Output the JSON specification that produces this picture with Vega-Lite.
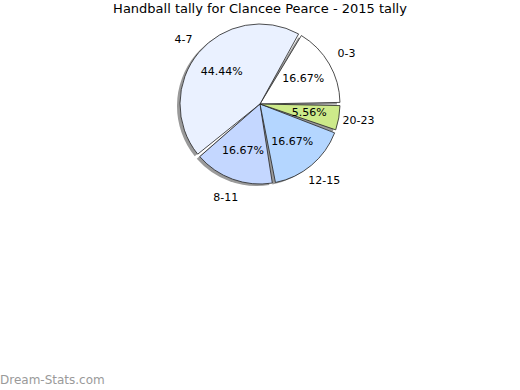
{
  "$schema": "https://vega.github.io/schema/vega-lite/v6.json",
  "padding": {"left": 0, "right": 0, "top": 3, "bottom": 2},
  "title": {"text": "Handball tally for Clancee Pearce - 2015 tally", "font": "DejaVu Sans", "fontSize": 13, "fontWeight": "normal", "color": "#000000", "anchor": "middle", "offset": 6},
  "config": {"view": {"stroke": null}, "font": "DejaVu Sans"},
  "spacing": 0,
  "vconcat": [
    {
      "width": 520,
      "height": 160,
      "data": {"values": [
        {"idx": 1, "range": "0-3", "count": 3, "pct": "16.67%"},
        {"idx": 2, "range": "4-7", "count": 8, "pct": "44.44%"},
        {"idx": 3, "range": "8-11", "count": 3, "pct": "16.67%"},
        {"idx": 4, "range": "12-15", "count": 3, "pct": "16.67%"},
        {"idx": 5, "range": "20-23", "count": 1, "pct": "5.56%"}
      ]},
      "encoding": {
        "theta": {"field": "count", "type": "quantitative", "stack": true, "scale": {"range": [1.5708, -4.7124]}},
        "order": {"field": "idx", "type": "quantitative"}
      },
      "layer": [
        {
          "mark": {"type": "arc", "outerRadius": 80, "padAngle": 0.04, "fill": "#9a9a9a", "xOffset": -3, "yOffset": 2}
        },
        {
          "mark": {"type": "arc", "outerRadius": 80, "padAngle": 0.04, "stroke": "#222222", "strokeWidth": 0.8},
          "encoding": {
            "color": {"field": "range", "type": "nominal", "legend": null,
              "scale": {"domain": ["0-3", "4-7", "8-11", "12-15", "20-23"], "range": ["#ffffff", "#eaf1ff", "#c4d7ff", "#b4d6ff", "#cdea8a"]}}
          }
        },
        {
          "mark": {"type": "text", "radius": 50, "fontSize": 11, "font": "DejaVu Sans", "color": "#000000"},
          "encoding": {"text": {"field": "pct", "type": "nominal"}}
        },
        {
          "mark": {"type": "text", "radius": 100, "fontSize": 11, "font": "DejaVu Sans", "color": "#000000"},
          "encoding": {"text": {"field": "range", "type": "nominal"}}
        }
      ]
    },
    {
      "width": 520,
      "height": 170,
      "data": {"values": [{"t": ""}]},
      "mark": {"type": "text"},
      "encoding": {"text": {"field": "t", "type": "nominal"}},
      "title": {"text": "Dream-Stats.com", "orient": "bottom", "anchor": "start", "font": "DejaVu Sans", "fontSize": 12, "fontWeight": "normal", "color": "#9a9a9a", "offset": 2}
    }
  ]
}
